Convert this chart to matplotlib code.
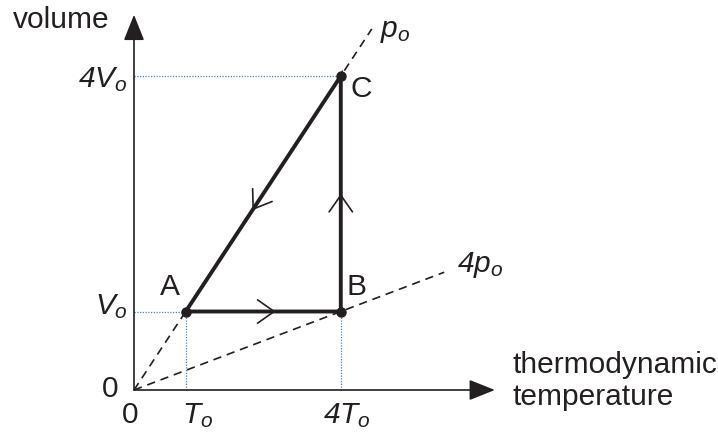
import numpy as np
import matplotlib.pyplot as plt

plt.rcParams['font.family'] = 'Liberation Sans'
plt.rcParams['mathtext.fontset'] = 'custom'
plt.rcParams['mathtext.rm'] = 'Liberation Sans'
plt.rcParams['mathtext.it'] = 'Liberation Sans:italic'

# state points A, B, C  (temperature in T_o units, volume in V_o units)
names = ['A', 'B', 'C']
T = [1, 4, 4]
V = [1, 1, 4]
# isobars through origin: V/T slope and where the dashed line stops
iso_labels = ['$p_o$', '4$p_o$']
iso_slope = [1.0, 0.25]
iso_end = [4.6, 6.0]
# arrow tip positions on each leg (fraction of leg length)
leg_arrow = [0.58, 0.50, 0.57]

fs = 21.5
ink = '#231f20'
fig = plt.figure(figsize=(7.18, 4.41), dpi=100)
ax = fig.add_axes([0, 0, 1, 1])
ax.set_xlim(-134 / 51.7, (718 - 134) / 51.7)
ax.set_ylim(-(441 - 390) / 78.5, 390 / 78.5)
ax.axis('off')

# axes with arrows
axis_arrow = dict(arrowstyle='-|>, head_length=0.8, head_width=0.32',
                  mutation_scale=20, lw=1.2, color=ink, shrinkA=0, shrinkB=0)
ax.annotate('', xy=(6.98, 0), xytext=(0, 0), arrowprops=axis_arrow)
ax.annotate('', xy=(0, 4.78), xytext=(0, 0), arrowprops=axis_arrow)

# isobars
for s, e in zip(iso_slope, iso_end):
    xs = np.array([0, e])
    ax.plot(xs, s * xs, color=ink, lw=1.2, ls=(0, (5, 3.5)))

# dotted guide lines
guide = dict(color='#4f81bd', lw=0.9, ls=(0, (1, 1.2)))
ax.plot([0, T[0]], [V[0], V[0]], **guide)
ax.plot([0, T[2]], [V[2], V[2]], **guide)
ax.plot([T[0], T[0]], [0, V[0]], **guide)
ax.plot([T[1], T[1]], [0, V[1]], **guide)

# cycle A -> B -> C -> A
cx = T + [T[0]]
cy = V + [V[0]]
ax.plot(cx, cy, color=ink, lw=2.8, solid_joinstyle='miter')
ax.plot(T, V, 'o', color=ink, ms=6.5)

for i in range(3):
    x0, y0 = cx[i], cy[i]
    x1, y1 = cx[i + 1], cy[i + 1]
    f = leg_arrow[i]
    tip = (x0 + f * (x1 - x0), y0 + f * (y1 - y0))
    back = (x0 + (f - 0.05) * (x1 - x0), y0 + (f - 0.05) * (y1 - y0))
    ax.annotate('', xy=tip, xytext=back,
                arrowprops=dict(arrowstyle='->, head_length=0.6, head_width=0.42',
                                mutation_scale=20, lw=1.2, color=ink,
                                shrinkA=0, shrinkB=0))

# point labels
ax.text(0.70, 1.21, names[0], fontsize=fs, ha='center', va='baseline', color=ink)
ax.text(4.31, 1.21, names[1], fontsize=fs, ha='center', va='baseline', color=ink)
ax.text(4.39, 3.73, names[2], fontsize=fs, ha='center', va='baseline', color=ink)

ax.text(4.76, 4.50, iso_labels[0], fontsize=fs, ha='left', va='baseline', color=ink, style='italic')
ax.text(6.25, 1.50, iso_labels[1], fontsize=fs, ha='left', va='baseline', color=ink, style='italic')

# axis labels and ticks
ax.text(-2.34, 4.61, 'volume', fontsize=fs, ha='left', va='baseline', color=ink)
ax.text(7.33, 0.22, 'thermodynamic', fontsize=fs, ha='left', va='baseline', color=ink)
ax.text(7.33, -0.19, 'temperature', fontsize=fs, ha='left', va='baseline', color=ink)
ax.text(-0.13, 3.86, '4$V_o$', fontsize=fs, ha='right', va='baseline', color=ink, style='italic')
ax.text(-0.12, 0.97, '$V_o$', fontsize=fs, ha='right', va='baseline', color=ink, style='italic')
ax.text(-0.46, -0.09, '0', fontsize=fs, ha='center', va='baseline', color=ink)
ax.text(-0.07, -0.42, '0', fontsize=fs, ha='center', va='baseline', color=ink)
ax.text(0.93, -0.42, '$T_o$', fontsize=fs, ha='left', va='baseline', color=ink, style='italic')
ax.text(3.66, -0.42, '4$T_o$', fontsize=fs, ha='left', va='baseline', color=ink, style='italic')

fig.savefig('out.png', dpi=100)
